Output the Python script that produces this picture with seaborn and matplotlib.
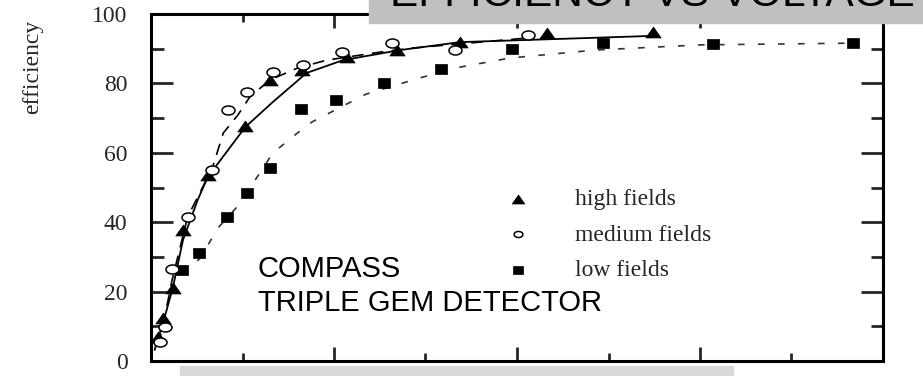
import matplotlib
matplotlib.use("Agg")
import matplotlib.pyplot as plt
import seaborn as sns
import pandas as pd
from matplotlib.markers import MarkerStyle
from matplotlib.transforms import Affine2D
from matplotlib.patches import Rectangle
from matplotlib.ticker import MultipleLocator, NullFormatter

# measured points (x in axis units, the x labels are hidden in the original)
high_x = [0.08, 0.13, 0.24, 0.35, 0.62, 1.03, 1.30, 1.65, 2.14, 2.69, 3.38, 4.33, 5.49]
high_eff = [7, 12.5, 21, 37.8, 53.6, 67.6, 81, 84, 87.6, 89.6, 92, 94.5, 94.8]
medium_x = [0.10, 0.15, 0.23, 0.40, 0.67, 0.84, 1.05, 1.33, 1.66, 2.09, 2.63, 3.32, 4.12]
medium_eff = [5.5, 9.8, 26.5, 41.5, 55, 72.3, 77.5, 83.3, 85.3, 89, 91.6, 89.5, 94]
low_x = [0.34, 0.53, 0.83, 1.05, 1.30, 1.64, 2.02, 2.55, 3.17, 3.95, 4.94, 6.14, 7.67]
low_eff = [26.2, 31, 41.5, 48.4, 55.6, 72.6, 75.2, 80.1, 84.1, 89.8, 91.6, 91.4, 91.6]

# fitted curves
high_fit_x = [0.04, 0.15, 0.24, 0.35, 0.51, 0.62, 1.03, 1.33, 1.70, 2.10, 2.72, 3.38, 4.44, 5.49]
high_fit_eff = [3.2, 12.7, 21.3, 34.9, 46.4, 53.0, 67.4, 74.6, 83.0, 86.7, 89.6, 91.9, 92.8, 93.7]
medium_fit_x = [0.08, 0.15, 0.23, 0.40, 0.67, 0.79, 0.95, 1.08, 1.30, 1.60, 1.92, 2.50, 2.86, 3.38, 4.12]
medium_fit_eff = [4.6, 12.7, 23.3, 41.5, 55.6, 65.7, 70.9, 76.1, 81.0, 84.4, 86.7, 89.0, 90.2, 91.4, 93.1]
low_fit_x = [0.35, 0.54, 0.73, 0.94, 1.16, 1.33, 1.60, 1.76, 2.35, 2.94, 3.38, 3.92, 4.85, 6.00, 7.67]
low_fit_eff = [24.8, 29.7, 38.3, 44.4, 53.0, 59.9, 65.7, 68.9, 76.9, 81.6, 84.7, 87.3, 89.6, 91.1, 91.6]

labels = ["high fields", "medium fields", "low fields"]

sns.set_style("ticks")
serif = ["Liberation Serif", "DejaVu Serif"]
sans = ["Liberation Sans", "DejaVu Sans"]

fig = plt.figure(figsize=(9.23, 3.76), dpi=100)
ax = fig.add_axes([151 / 923, 15 / 376, 732 / 923, 347 / 376])

# fits
sns.lineplot(x=high_fit_x, y=high_fit_eff, ax=ax, sort=False, estimator=None,
             color="black", lw=1.3, linestyle="-", legend=False)
sns.lineplot(x=medium_fit_x, y=medium_fit_eff, ax=ax, sort=False, estimator=None,
             color="black", lw=1.2, linestyle=(0, (7, 5)), legend=False)
sns.lineplot(x=low_fit_x, y=low_fit_eff, ax=ax, sort=False, estimator=None,
             color="#333333", lw=1.2, linestyle=(0, (4, 8)), legend=False)

# data points, markers a bit wider than tall like the scanned figure
tri = MarkerStyle("^", transform=Affine2D().scale(1.4, 1))
circ = MarkerStyle("o", transform=Affine2D().scale(1.45, 1))
sq = MarkerStyle("s", transform=Affine2D().scale(1.2, 1))

sns.scatterplot(x=high_x, y=high_eff, ax=ax, marker=tri, s=62, color="black",
                edgecolor="black", linewidth=0.5, label=labels[0], zorder=4)
sns.scatterplot(x=medium_x, y=medium_eff, ax=ax, marker=circ, s=42, facecolor="white",
                edgecolor="black", linewidth=1.1, label=labels[1], zorder=5)
sns.scatterplot(x=low_x, y=low_eff, ax=ax, marker=sq, s=52, color="black",
                edgecolor="black", linewidth=0.5, label=labels[2], zorder=4)

ax.set_xlim(0, 8)
ax.set_ylim(0, 100)
ax.xaxis.set_major_locator(MultipleLocator(2))
ax.xaxis.set_minor_locator(MultipleLocator(1))
ax.yaxis.set_major_locator(MultipleLocator(20))
ax.yaxis.set_minor_locator(MultipleLocator(10))
ax.xaxis.set_major_formatter(NullFormatter())
ax.tick_params(axis="y", which="major", direction="in", length=16, width=2,
               left=True, right=True, pad=17)
ax.tick_params(axis="y", which="minor", direction="in", length=9, width=2,
               left=True, right=True)
ax.tick_params(axis="x", which="major", direction="in", length=10, width=2,
               top=True, bottom=True)
ax.tick_params(axis="x", which="minor", direction="in", length=6, width=2,
               top=True, bottom=True)
for lab in ax.get_yticklabels():
    lab.set_family(serif)
    lab.set_fontsize(17)
for sp in ax.spines.values():
    sp.set_linewidth(2.2)
    sp.set_color("black")
ax.set_xlabel("")
ax.set_ylabel("")

leg = ax.legend(loc="upper left", bbox_to_anchor=(0.485, 0.497), frameon=False,
                borderaxespad=0, borderpad=0, handlelength=1.0, handletextpad=1.92,
                labelspacing=0.59, prop={"family": serif, "size": 17})
for h, s in zip(leg.legend_handles, [42, 19, 33]):
    h.set_sizes([s])

fig.text(33 / 923, 1 - 67 / 376, "efficiency", rotation=90, ha="center", va="center",
         family=serif, fontsize=17)

ax.text(0.146, 0.305, "COMPASS\nTRIPLE GEM DETECTOR", transform=ax.transAxes,
        ha="left", va="top", family=sans, fontsize=21, linespacing=1.25, color="black")

# overlay boxes
fig.patches.append(Rectangle((369 / 923, 1 - 23 / 376), 554 / 923, 23 / 376,
                             transform=fig.transFigure, color="#c0c0c0", zorder=5))
fig.patches.append(Rectangle((180 / 923, 0), 553 / 923, 10 / 376,
                             transform=fig.transFigure, color="#d9d9d9", zorder=5))
fig.text(390 / 923, 1 - 6 / 376, "EFFICIENCY VS VOLTAGE", ha="left", va="baseline",
         family=sans, fontsize=30.5, color="black", zorder=6)

fig.savefig("out.png", dpi=100)
